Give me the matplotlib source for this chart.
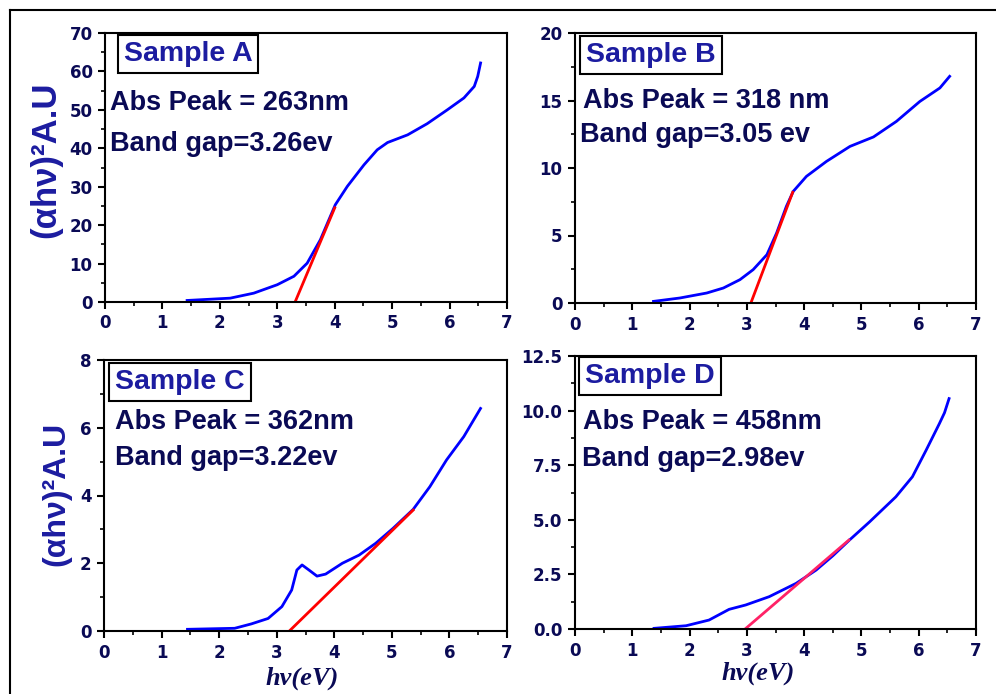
import numpy as np
import matplotlib
matplotlib.use("Agg")
from matplotlib import pyplot as plt
from matplotlib.lines import Line2D
from matplotlib.ticker import MultipleLocator

# ---- data ----
samples = ["Sample A", "Sample B", "Sample C", "Sample D"]
peaks = ["Abs Peak = 263nm", "Abs Peak = 318 nm", "Abs Peak = 362nm", "Abs Peak = 458nm"]
gaps = ["Band gap=3.26ev", "Band gap=3.05 ev", "Band gap=3.22ev", "Band gap=2.98ev"]

xa = [1.43, 2.18, 2.59, 3.0, 3.29, 3.52, 3.75, 4.01, 4.22, 4.51, 4.74, 4.92, 5.27, 5.61, 5.96, 6.25, 6.43, 6.49, 6.54]
ya = [0.4, 1.0, 2.3, 4.5, 6.7, 10.1, 16.2, 25.3, 30.1, 35.7, 39.6, 41.5, 43.5, 46.4, 50.0, 53.1, 56.1, 58.7, 62.2]
fit_xa = [3.31, 4.0]
fit_ya = [0.0, 24.5]

xb = [1.37, 1.83, 2.30, 2.59, 2.88, 3.11, 3.35, 3.52, 3.69, 3.81, 4.04, 4.39, 4.80, 5.21, 5.61, 6.02, 6.37, 6.54]
yb = [0.12, 0.37, 0.74, 1.11, 1.73, 2.47, 3.58, 5.19, 7.16, 8.27, 9.38, 10.49, 11.6, 12.3, 13.45, 14.93, 15.93, 16.79]
fit_xb = [3.07, 3.80]
fit_yb = [0.0, 8.2]

xc = [1.45, 2.27, 2.56, 2.85, 3.09, 3.26, 3.35, 3.44, 3.56, 3.70, 3.85, 4.14, 4.43, 4.72, 5.02, 5.37, 5.66, 5.95, 6.25, 6.54]
yc = [0.05, 0.08, 0.21, 0.37, 0.72, 1.21, 1.8, 1.95, 1.8, 1.62, 1.68, 2.0, 2.24, 2.59, 3.03, 3.59, 4.26, 5.05, 5.74, 6.57]
fit_xc = [3.22, 5.37]
fit_yc = [0.0, 3.57]

xd = [1.38, 1.94, 2.34, 2.69, 2.98, 3.39, 3.86, 4.21, 4.5, 4.79, 5.14, 5.6, 5.89, 6.13, 6.36, 6.45, 6.53]
yd = [0.03, 0.15, 0.41, 0.9, 1.1, 1.48, 2.09, 2.7, 3.35, 4.07, 4.9, 6.05, 6.97, 8.19, 9.4, 9.9, 10.55]
fit_xd = [2.97, 4.78]
fit_yd = [0.0, 4.07]

curves = [(xa, ya), (xb, yb), (xc, yc), (xd, yd)]
fits = [(fit_xa, fit_ya), (fit_xb, fit_yb), (fit_xc, fit_yc), (fit_xd, fit_yd)]
fit_colors = ["#ff0000", "#ff0000", "#ff0000", "#ff2266"]
ylims = [70, 20, 8, 12.5]
ysteps = [10, 5, 2, 2.5]
yfmt = ["{:.0f}", "{:.0f}", "{:.0f}", "{:.1f}"]

W, H = 996, 694
navy = "#0a0a55"
label_blue = "#1c1ca0"

plt.rcParams["font.family"] = ["Liberation Sans", "DejaVu Sans"]
fig = plt.figure(figsize=(W / 100, H / 100), dpi=100)

# axes boxes in pixels: left, top, right, bottom
boxes = [(105, 33, 507, 302), (575, 33, 976, 303), (104, 360, 507, 631), (575, 356, 976, 629)]
# (sample box centre, peak text start, gap text start) in pixels
text_pos = [((188, 54), (110, 103), (110, 144)),
            ((651, 55), (583, 101), (580, 135)),
            ((180, 382), (115, 422), (115, 458)),
            ((650, 376), (583, 422), (582, 459))]

def px(x, y):
    return x / W, 1 - y / H

for i in range(4):
    l, t, r, b = boxes[i]
    ax = fig.add_axes([l / W, 1 - b / H, (r - l) / W, (b - t) / H])
    ax.plot(curves[i][0], curves[i][1], color="#0000ff", lw=2)
    ax.plot(fits[i][0], fits[i][1], color=fit_colors[i], lw=2)
    ax.set_xlim(0, 7)
    ax.set_ylim(0, ylims[i])
    ax.xaxis.set_minor_locator(MultipleLocator(0.5))
    ax.yaxis.set_minor_locator(MultipleLocator(ysteps[i] / 2))
    ticks = np.arange(0, ylims[i] + 0.01, ysteps[i])
    ax.set_yticks(ticks)
    ax.set_yticklabels([yfmt[i].format(v) for v in ticks])
    ax.set_xticks(range(8))
    ax.set_xticklabels([str(v) for v in range(8)])
    ax.tick_params(which="major", direction="out", length=5, width=1.5, pad=4,
                   labelsize=12, labelcolor=navy)
    ax.tick_params(which="minor", direction="out", length=3, width=1.2)
    for lab in ax.get_xticklabels() + ax.get_yticklabels():
        lab.set_fontweight("bold")
        lab.set_family("DejaVu Sans")
    for s in ax.spines.values():
        s.set_linewidth(1.5)

    (cx, cy), (p1x, p1y), (p2x, p2y) = text_pos[i]
    fig.text(*px(cx, cy), samples[i], ha="center", va="center", fontsize=20.5,
             fontweight="bold", color=label_blue,
             bbox=dict(boxstyle="square,pad=0.2", fc="white", ec="black", lw=1.5))
    fig.text(*px(p1x, p1y), peaks[i], ha="left", va="center", fontsize=19.5,
             fontweight="heavy", color=navy)
    fig.text(*px(p2x, p2y), gaps[i], ha="left", va="center", fontsize=19.5,
             fontweight="heavy", color=navy)

# axis titles
ylab = "(αhν)²A.U"
fig.text(*px(46, 160), ylab, rotation=90, ha="center", va="center", fontsize=25,
         fontweight="bold", color=label_blue)
fig.text(*px(56, 494), ylab, rotation=90, ha="center", va="center", fontsize=23,
         fontweight="bold", color=label_blue)
xlab = "hν(eV)"
fig.text(*px(302, 678), xlab, ha="center", va="center", fontsize=19, fontweight="bold",
         style="italic", family="Liberation Serif", color=navy)
fig.text(*px(758, 673), xlab, ha="center", va="center", fontsize=19, fontweight="bold",
         style="italic", family="Liberation Serif", color=navy)

# outer frame (top and left edges visible)
fig.add_artist(Line2D([10 / W, 1.0], [1 - 10 / H, 1 - 10 / H], color="black", lw=1.5))
fig.add_artist(Line2D([10 / W, 10 / W], [1 - 10 / H, 0.0], color="black", lw=1.5))

fig.savefig("out.png", dpi=100)
